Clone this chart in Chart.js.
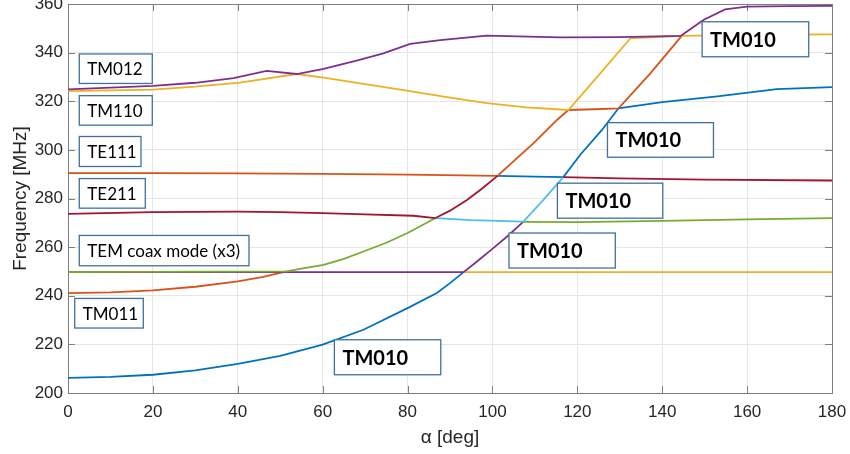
<!DOCTYPE html>
<html>
<head>
<meta charset="utf-8">
<script src="https://cdn.jsdelivr.net/npm/chart.js@4.4.1/dist/chart.umd.min.js"></script>
<style>
  html, body { margin: 0; padding: 0; background: #ffffff; }
  #wrap { width: 850px; height: 454px; }
</style>
</head>
<body>
<div id="wrap"><canvas id="modes" width="850" height="454"></canvas></div>
<script>
// Eigenmode frequencies versus rotation angle alpha.
// Each colour is one plotted trace; null in a frequency list breaks the trace.

const alphaTicks = [0, 20, 40, 60, 80, 100, 120, 140, 160, 180];
const freqTicks = [200, 220, 240, 260, 280, 300, 320, 340, 360];

// blue trace
const blueAlpha = [0, 10, 20, 30, 40, 50, 60, 69.6, 80, 86.9, 90, 93.2, 97,
  101.2, 110, 116.7, 120.7, 125.8, 129.7, 140, 153, 167, 180];
const blueFreq = [206.2, 206.6, 207.5, 209.3, 212.0, 215.3, 219.9, 226.0, 234.9, 241.1, 245.2, 249.7, null,
  289.3, 289.0, 288.8, 298.0, 308.2, 317.1, 319.6, 322.0, 325.0, 325.8];

// orange trace
const orangeAlpha = [0, 10, 20, 30, 40, 46, 51.5, 60,
  0, 20, 40, 60, 80, 101.2, 105, 109.7, 115.2, 117.9, 124, 129.7, 137.2, 144.6];
const orangeFreq = [241.1, 241.4, 242.2, 243.7, 245.9, 247.8, 250.0, null,
  290.4, 290.4, 290.3, 290.1, 289.8, 289.3, 295.4, 302.8, 312.3, 316.4, 316.7, 317.1, 331.5, 346.9];

// yellow trace
const yellowAlpha = [0, 20, 30, 40.5, 53.9, 60.2, 70, 79.8, 90, 98.7, 108, 117.9, 125.4, 132.5, 144.6, 160, 180, 185,
  93.2, 180];
const yellowFreq = [324.2, 324.8, 326.0, 327.7, 331.2, 329.7, 327.0, 324.4, 321.5, 319.2, 317.5, 316.4, 331.5, 345.9, 346.9, 347.3, 347.5, null,
  249.7, 249.7];

// purple trace
const purpleAlpha = [0, 20, 30, 39, 46.8, 53.9, 60.2, 68, 74.3, 80.6, 87.7, 98.7, 116, 130, 144.4, 149.7, 154.8, 160, 170, 180, 185,
  0, 93.2, 96.5, 100.2, 103.8, 107.3];
const purpleFreq = [324.9, 326.3, 327.6, 329.5, 332.5, 331.2, 333.3, 336.7, 339.7, 343.6, 345.1, 347.0, 346.3, 346.4, 346.9, 353.4, 357.8, 358.9, 359.1, 359.2, null,
  249.7, 249.7, 254.3, 259.6, 264.9, 270.5];

// green trace
const greenAlpha = [0, 51.5, 55, 60.2, 65, 69.6, 75, 80, 86.5, 95,
  107.3, 120, 140, 160, 180];
const greenFreq = [249.7, 250.0, 251.2, 252.7, 255.2, 258.2, 261.8, 265.8, 271.9, null,
  270.4, 270.3, 270.8, 271.4, 271.9];

// light blue trace
const lightBlueAlpha = [86.5, 95, 107.3, 112, 116.7];
const lightBlueFreq = [271.9, 271.1, 270.5, 279.4, 288.8];

// dark red trace
const darkRedAlpha = [0, 20, 40, 50, 60, 70, 81.4, 86.5, 90, 94, 97.5, 101.2, 108,
  116.7, 130, 150, 180];
const darkRedFreq = [273.7, 274.4, 274.6, 274.4, 274.0, 273.5, 272.9, 271.9, 275.0, 279.4, 284.0, 289.3, null,
  288.8, 288.3, 287.8, 287.4];

// text boxes naming the modes
const labelTexts = ['TM012', 'TM110', 'TE111', 'TE211', 'TEM coax mode (x3)', 'TM011',
  'TM010', 'TM010', 'TM010', 'TM010', 'TM010'];
const labelAlpha = [2.66, 2.66, 2.66, 2.66, 2.66, 1.58, 62.76, 103.9, 115.3, 127.1, 149.4];
const labelFreq = [339.45, 322.3, 305.5, 288.2, 264.8, 238.9, 221.9, 265.8, 286.3, 311.2, 352.7];

// box geometry and type style, in pixels
const labelLayout = [
  { w: 73, h: 29.5, bold: false },
  { w: 73, h: 29.5, bold: false },
  { w: 61.7, h: 30, bold: false },
  { w: 66, h: 29.6, bold: false },
  { w: 169.7, h: 30.3, bold: false },
  { w: 68.6, h: 29.6, bold: false },
  { w: 106.4, h: 35, bold: true },
  { w: 106.3, h: 35, bold: true },
  { w: 105.4, h: 35, bold: true },
  { w: 106, h: 34.6, bold: true },
  { w: 106.6, h: 35, bold: true }
];

function points(xs, ys) {
  return xs.map((x, i) => ({ x: x, y: ys[i] }));
}

const traces = [
  { data: points(blueAlpha, blueFreq), color: '#0072BD' },
  { data: points(orangeAlpha, orangeFreq), color: '#D95319' },
  { data: points(yellowAlpha, yellowFreq), color: '#EDB120' },
  { data: points(purpleAlpha, purpleFreq), color: '#7E2F8E' },
  { data: points(greenAlpha, greenFreq), color: '#77AC30' },
  { data: points(lightBlueAlpha, lightBlueFreq), color: '#4DBEEE' },
  { data: points(darkRedAlpha, darkRedFreq), color: '#A2142F' }
];

const AXIS_COLOR = '#7f7f7f';
const TICK_LEN = 7;

// frame around the plot with inward tick marks on all four sides
const framePlugin = {
  id: 'frame',
  beforeDatasetsDraw(chart) {
    const { ctx, chartArea: a, scales } = chart;
    ctx.save();
    ctx.strokeStyle = AXIS_COLOR;
    ctx.lineWidth = 1;
    ctx.beginPath();
    alphaTicks.forEach(v => {
      const x = Math.round(scales.x.getPixelForValue(v)) + 0.5;
      ctx.moveTo(x, a.bottom); ctx.lineTo(x, a.bottom - TICK_LEN);
      ctx.moveTo(x, a.top); ctx.lineTo(x, a.top + TICK_LEN);
    });
    freqTicks.forEach(v => {
      const y = Math.round(scales.y.getPixelForValue(v)) + 0.5;
      ctx.moveTo(a.left, y); ctx.lineTo(a.left + TICK_LEN, y);
      ctx.moveTo(a.right, y); ctx.lineTo(a.right - TICK_LEN, y);
    });
    ctx.stroke();
    ctx.strokeRect(Math.round(a.left) + 0.5, Math.round(a.top) + 0.5,
      Math.round(a.right - a.left), Math.round(a.bottom - a.top));
    ctx.restore();
  },
  afterDraw(chart) {
    const { ctx, scales } = chart;
    ctx.save();
    labelTexts.forEach((txt, i) => {
      const L = labelLayout[i];
      const x = scales.x.getPixelForValue(labelAlpha[i]);
      const y = scales.y.getPixelForValue(labelFreq[i]);
      ctx.fillStyle = '#ffffff';
      ctx.fillRect(x, y, L.w, L.h);
      ctx.strokeStyle = '#41719C';
      ctx.lineWidth = 1.3;
      ctx.strokeRect(x, y, L.w, L.h);
      ctx.fillStyle = '#000000';
      ctx.font = L.bold ? 'bold 20px Lato' : '17px Lato';
      ctx.textBaseline = 'middle';
      ctx.textAlign = 'left';
      ctx.fillText(txt, x + 8, y + L.h / 2 + 1);
    });
    ctx.restore();
  }
};

new Chart(document.getElementById('modes'), {
  type: 'line',
  data: {
    datasets: traces.map((t, i) => ({
      data: t.data,
      borderColor: t.color,
      backgroundColor: t.color,
      borderWidth: 1.8,
      pointRadius: 0,
      tension: 0,
      fill: false,
      spanGaps: false,
      order: traces.length - i
    }))
  },
  options: {
    responsive: false,
    animation: false,
    layout: { padding: { top: 4, right: 18, left: 0, bottom: 0 } },
    plugins: { legend: { display: false }, tooltip: { enabled: false } },
    scales: {
      x: {
        type: 'linear',
        min: 0, max: 180,
        border: { display: false },
        grid: { color: '#e6e6e6', drawTicks: false, lineWidth: 1 },
        ticks: {
          stepSize: 20, padding: 9, color: '#262626',
          font: { family: 'Liberation Sans', size: 17 }
        },
        title: {
          display: true, text: 'α [deg]', color: '#262626',
          font: { family: 'Liberation Sans', size: 19 }, padding: { top: 0, bottom: 5 }
        },
        afterFit(s) { s.height = 61; s.paddingLeft = 0; s.paddingRight = 0; }
      },
      y: {
        type: 'linear',
        min: 200, max: 360,
        border: { display: false },
        grid: { color: '#e6e6e6', drawTicks: false, lineWidth: 1 },
        ticks: {
          stepSize: 20, padding: 5, color: '#262626',
          font: { family: 'Liberation Sans', size: 17 }
        },
        title: {
          display: true, text: 'Frequency [MHz]', color: '#262626',
          font: { family: 'Liberation Sans', size: 19 }, padding: { top: 9, bottom: 0 }
        },
        afterFit(s) { s.width = 68; s.paddingTop = 0; s.paddingBottom = 0; }
      }
    }
  },
  plugins: [framePlugin]
});
</script>
</body>
</html>
